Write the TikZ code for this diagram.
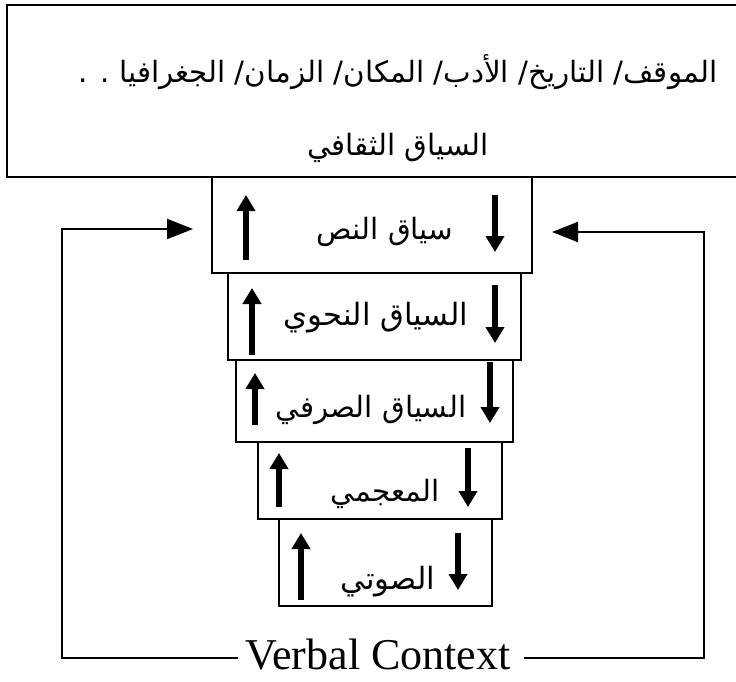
\documentclass[tikz,border=0pt]{standalone}
\usepackage{fontspec}
\setmainfont{Liberation Serif}
\newfontfamily\arabicfont[Script=Arabic]{DejaVu Sans}
\TeXXeTstate=1
\usetikzlibrary{arrows.meta}
\begin{document}
\begin{tikzpicture}[x=0.75pt,y=-0.75pt,
  box/.style={draw, line width=1.5pt, rectangle, inner sep=0pt},
  ar/.style={font=\arabicfont\fontsize{22}{26}\selectfont, inner sep=0pt},
  artop/.style={font=\arabicfont\fontsize{22}{26}\selectfont, inner sep=0pt},
  vert/.style={line width=4.5pt, -{Triangle[length=12pt,width=13.5pt]}},
  conn/.style={line width=1.5pt},
  conntip/.style={line width=1.5pt, -{Triangle[length=19.5pt,width=15pt]}}]
\useasboundingbox (0,0) rectangle (736,682);
% cultural context frame
\draw[line width=2pt] (740,5) -- (7,5) -- (7,177) -- (740,177);
\node[artop] (t1) at (398,72) {\beginR الموقف/ التاريخ/ الأدب/ المكان/ الزمان/ الجغرافيا . .\endR};
\node[artop] (t2) at (398,148) {\beginR السياق الثقافي\endR};
% stacked boxes
\node[box, minimum width=240pt, minimum height=72pt] (b1) at (372,225) {};
\node[box, minimum width=219.75pt, minimum height=65.25pt] (b2) at (374.5,316.5) {};
\node[box, minimum width=207.75pt, minimum height=61.5pt] (b3) at (374.5,401) {};
\node[box, minimum width=183pt, minimum height=57.75pt] (b4) at (380,480.5) {};
\node[box, minimum width=159.75pt, minimum height=65.25pt] (b5) at (385.5,562.5) {};
% labels
\node[ar] (l1) at (385,232) {\beginR سياق النص\endR};
\node[ar, font=\arabicfont\fontsize{23}{26}\selectfont] (l2) at (376,318) {\beginR السياق النحوي\endR};
\node[ar] (l3) at (371,410) {\beginR السياق الصرفي\endR};
\node[ar] (l4) at (385,494) {\beginR المعجمي\endR};
\node[ar, font=\arabicfont\fontsize{23}{26}\selectfont] (l5) at (388,582) {\beginR الصوتي\endR};
% up / down arrows
\draw[vert] (246,260) -- (246,195);
\draw[vert] (495,195) -- (495,252);
\draw[vert] (252,355) -- (252,288);
\draw[vert] (495,285) -- (495,343);
\draw[vert] (255,425) -- (255,373);
\draw[vert] (490,362) -- (490,423);
\draw[vert] (279,507) -- (279,453);
\draw[vert] (468,448) -- (468,507);
\draw[vert] (301,600) -- (301,533);
\draw[vert] (458,533) -- (458,590);
% verbal context
\node[inner sep=0pt, font=\fontsize{33}{36}\selectfont] (vc) at (378,655) {Verbal Context};
\coordinate (L1) at (62,658);
\coordinate (L2) at (62,229);
\coordinate (LT) at (193,229);
\coordinate (R1) at (704,658);
\coordinate (R2) at (704,232);
\coordinate (RT) at (552,232);
\draw[conntip] ([xshift=-5pt]vc.west |- L1) -- (L1) -- (L2) -- (LT);
\draw[conntip] ([xshift=10pt]vc.east |- R1) -- (R1) -- (R2) -- (RT);
\end{tikzpicture}
\end{document}
